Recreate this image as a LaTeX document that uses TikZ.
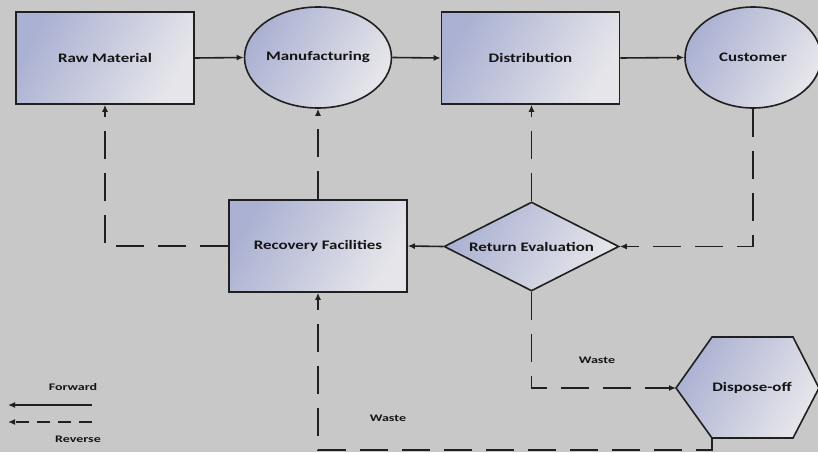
\documentclass[tikz,border=0pt]{standalone}
\usepackage{fontspec}
\setmainfont{Carlito}
\usetikzlibrary{shapes.geometric,arrows.meta}
\definecolor{bg}{HTML}{C8C8C8}
\definecolor{ln}{HTML}{202020}
\definecolor{txt}{HTML}{141414}
\definecolor{lav}{HTML}{ABB1D2}
\definecolor{pale}{HTML}{E6E6EA}
\newcommand\wbig[1]{\scalebox{1.3}[1]{#1}}
\newcommand\wsmall[1]{\scalebox{1.4}[1]{#1}}
\begin{document}
\begin{tikzpicture}[x=1pt,y=-1pt,
  shadefill/.style={left color=lav, right color=pale, shading angle=60},
  lbl/.style={font=\bfseries\fontsize{13}{15}\selectfont, text=txt},
  slbl/.style={font=\bfseries\fontsize{10}{12}\selectfont, text=txt},
  boxn/.style={lbl, shadefill, draw=ln, line width=1.6pt, rectangle, minimum width=178pt, minimum height=92pt, inner sep=0pt},
  elln/.style={lbl, shadefill, draw=ln, line width=1.6pt, ellipse, minimum width=136pt, minimum height=101pt, inner sep=0pt},
  dia/.style={lbl, shadefill, draw=ln, line width=1.6pt, diamond, aspect=2, minimum width=175pt, minimum height=89pt, inner sep=0pt},
  fwd/.style={draw=ln, line width=1.6pt, -{Latex[length=7pt,width=6pt]}},
  rev/.style={fwd, dash pattern=on 28pt off 14pt},
  revs/.style={fwd, dash pattern=on 13pt off 8pt}
]
\fill[bg] (0,0) rectangle (818,452);
\useasboundingbox (0,0) rectangle (818,452);

\node[boxn] (raw) at (105,58) {\wbig{Raw Material}};
\node[elln] (man) at (318,57.5) {\wbig{Manufacturing}};
\node[boxn] (dist) at (530.5,58) {\wbig{Distribution}};
\node[elln] (cust) at (753,57.5) {\wbig{Customer}};
\node[boxn] (rec) at (318,246) {\wbig{Recovery Facilities}};
\node[dia] (ret) at (531.5,246.5) {\wbig{Return Evaluation}};

\path[shadefill, draw=ln, line width=1.6pt] (676,388) -- (712,337) -- (793,337) -- (819,388) -- (793,438) -- (712,438) -- cycle;
\coordinate (dl) at (676,388);
\coordinate (dbl) at (712,438);
\coordinate (b1) at (712,450);
\node[lbl] (disp) at (752,388) {\wbig{Dispose-off}};

\draw[fwd] (raw.east) -- (man.west);
\draw[fwd] (man.east) -- (dist.west);
\draw[fwd] (dist.east) -- (cust.west);
\draw[rev] (cust.south) |- (ret.east);
\draw[rev] (ret.north) -- (ret.north |- dist.south);
\draw[fwd] (ret.west) -- (rec.east);
\draw[rev] (rec.north) -- (man.south);
\draw[rev] (rec.west) -| (raw.south);
\draw[rev] (ret.south) |- (dl);
\draw[rev] (dbl) -- (b1) -| (rec.south);

\node[slbl] (w1) at (597,360) {\wsmall{Waste}};
\node[slbl] (w2) at (388,418) {\wsmall{Waste}};

\node[slbl] (fl) at (73,387) {\wsmall{Forward}};
\coordinate (ls1) at (92,405);
\coordinate (le1) at (8,405);
\draw[fwd] (ls1) -- (le1);
\coordinate (ls2) at (92,422);
\coordinate (le2) at (8,422);
\draw[revs] (ls2) -- (le2);
\node[slbl] (rl) at (78,439) {\wsmall{Reverse}};
\end{tikzpicture}
\end{document}
